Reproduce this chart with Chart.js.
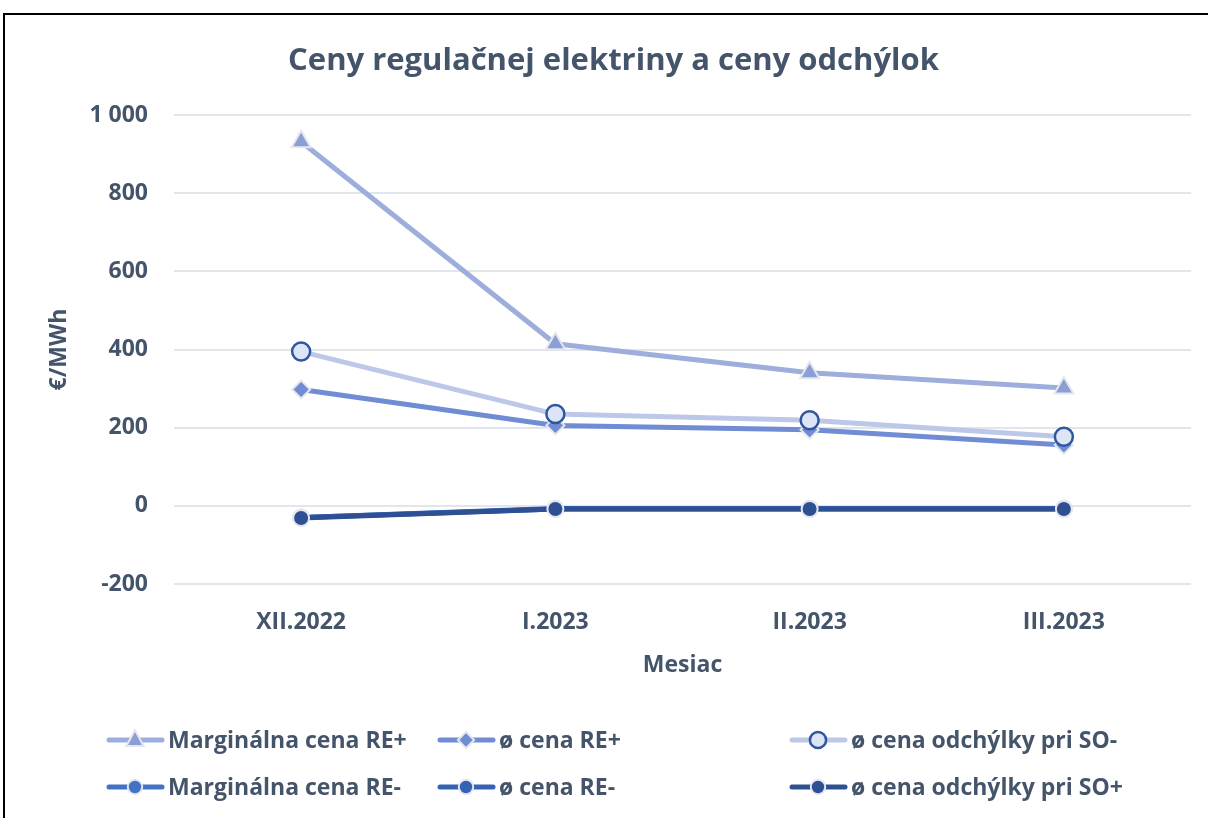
<!DOCTYPE html>
<html>
<head>
<meta charset="utf-8">
<script src="https://cdn.jsdelivr.net/npm/chart.js@4/dist/chart.umd.min.js"></script>
<style>
  html, body { margin: 0; padding: 0; background: #fff; overflow: hidden; }
  #frame { position: absolute; left: 3px; top: 13px; width: 1230px; height: 900px; border: 2.5px solid #000; box-sizing: border-box; }
  #myChart { position: absolute; left: 0; top: 0; }
</style>
</head>
<body>
<div id="frame"></div>
<canvas id="myChart" width="1208" height="818"></canvas>
<script>
// data
const months = ['XII.2022', 'I.2023', 'II.2023', 'III.2023'];
const marginalRePlus = [932, 415, 341, 302];
const avgRePlus = [298, 206, 195, 156];
const avgDevSoMinus = [395, 235, 219, 177];
const marginalReMinus = [-30, -7, -7, -7];
const avgReMinus = [-30, -8, -8, -8];
const avgDevSoPlus = [-31, -8, -8, -8];
const yTicks = [-200, 0, 200, 400, 600, 800, 1000];

const textColor = '#44546A';
const fontFam = '"Open Sans", Lato, sans-serif';

function series(label, data, line, style, fill, border, radius, borderW, idx) {
  return {
    label: label,
    data: data,
    borderColor: line,
    borderWidth: 5,
    pointStyle: style,
    pointRadius: radius,
    pointHoverRadius: radius,
    pointBackgroundColor: fill,
    pointBorderColor: border,
    pointBorderWidth: borderW,
    tension: 0,
    order: 6 - idx
  };
}

const datasets = [
  series('Marginálna cena RE+', marginalRePlus, '#9DAEDC', 'triangle', '#8C9ED6', '#E4E7EE', 11, 2, 0),
  series('ø cena RE+', avgRePlus, '#6F8CD4', 'rectRot', '#6F8CD4', '#E4E7EE', 9, 2, 1),
  series('ø cena odchýlky pri SO-', avgDevSoMinus, '#BDC8E8', 'circle', '#DCE4F5', '#2F56A0', 9, 2.5, 2),
  series('Marginálna cena RE-', marginalReMinus, '#4472C4', 'circle', '#4472C4', '#E4E7EE', 8, 2, 3),
  series('ø cena RE-', avgReMinus, '#3662B4', 'circle', '#3662B4', '#E4E7EE', 8, 2, 4),
  series('ø cena odchýlky pri SO+', avgDevSoPlus, '#2E5092', 'circle', '#2E5092', '#E4E7EE', 8, 2, 5)
];

function drawMarker(ctx, ds, x, y) {
  const r = ds.pointRadius;
  ctx.save();
  ctx.fillStyle = ds.pointBackgroundColor;
  ctx.strokeStyle = ds.pointBorderColor;
  ctx.lineWidth = ds.pointBorderWidth;
  ctx.beginPath();
  if (ds.pointStyle === 'triangle') {
    ctx.moveTo(x, y - r);
    ctx.lineTo(x + r * 0.87, y + r * 0.6);
    ctx.lineTo(x - r * 0.87, y + r * 0.6);
    ctx.closePath();
  } else if (ds.pointStyle === 'rectRot') {
    ctx.moveTo(x, y - r);
    ctx.lineTo(x + r, y);
    ctx.lineTo(x, y + r);
    ctx.lineTo(x - r, y);
    ctx.closePath();
  } else {
    ctx.arc(x, y, r, 0, Math.PI * 2);
  }
  ctx.fill();
  ctx.stroke();
  ctx.restore();
}

// legend in three columns, two rows like the original
const legendPlugin = {
  id: 'gridLegend',
  afterDraw(chart) {
    const ctx = chart.ctx;
    const cols = [107, 438, 790];
    const rows = [740, 787];
    chart.data.datasets.forEach(function(ds, i) {
      const x = cols[i % 3];
      const y = rows[Math.floor(i / 3)];
      ctx.save();
      ctx.strokeStyle = ds.borderColor;
      ctx.lineWidth = 5;
      ctx.lineCap = 'round';
      ctx.beginPath();
      ctx.moveTo(x + 2, y);
      ctx.lineTo(x + 55, y);
      ctx.stroke();
      ctx.restore();
      drawMarker(ctx, Object.assign({}, ds, {pointRadius: ds.pointRadius * 0.9}), x + 28, y);
      ctx.save();
      ctx.fillStyle = textColor;
      ctx.font = 'bold 23px ' + fontFam;
      ctx.textBaseline = 'middle';
      ctx.fillText(ds.label, x + 61, y + 1);
      ctx.restore();
    });
  }
};

const axisFont = { family: fontFam, size: 23, weight: 'bold' };

const ctx = document.getElementById('myChart').getContext('2d');
const myChart = new Chart(ctx, {
  type: 'line',
  data: {
    labels: months,
    datasets: datasets
  },
  options: {
    responsive: false,
    animation: false,
    layout: { padding: { left: 36, right: 17, top: 0, bottom: 134 } },
    plugins: {
      legend: { display: false },
      tooltip: { enabled: false },
      title: {
        display: true,
        text: 'Ceny regulačnej elektriny a ceny odchýlok',
        color: textColor,
        font: { family: fontFam, size: 31, weight: 'bold' },
        padding: { top: 43, bottom: 35 }
      }
    },
    scales: {
      x: {
        offset: true,
        grid: { display: false, drawTicks: false },
        border: { display: false },
        ticks: { color: textColor, font: axisFont, padding: 25, maxRotation: 0 },
        title: {
          display: true,
          text: 'Mesiac',
          color: textColor,
          font: axisFont,
          padding: { top: 0, bottom: 5 }
        },
        afterFit(scale) { scale.height = 100; }
      },
      y: {
        min: -200,
        max: 1000,
        afterBuildTicks(scale) { scale.ticks = yTicks.map(v => ({ value: v })); },
        grid: { color: '#E1E5EC', lineWidth: 2, drawTicks: false },
        border: { display: false },
        ticks: {
          color: textColor,
          font: axisFont,
          padding: 26,
          callback: v => String(v).replace(/\B(?=(\d{3})+(?!\d))/g, ' ')
        },
        title: {
          display: true,
          text: '€/MWh',
          color: textColor,
          font: axisFont,
          padding: { top: 10, bottom: 0 }
        },
        afterFit(scale) { scale.width = 138; }
      }
    }
  },
  plugins: [legendPlugin]
});
</script>
</body>
</html>
